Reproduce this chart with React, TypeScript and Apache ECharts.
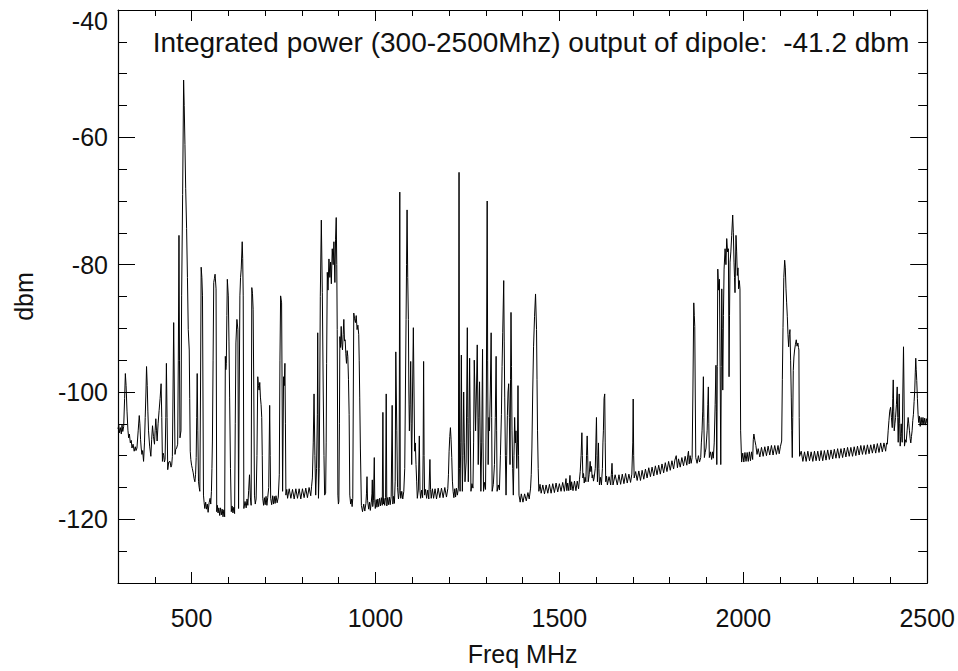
import React, { useEffect, useRef } from "react";
import * as echarts from "echarts";

// Spectrum, split into four frequency bands: [MHz, dBm]
const band1: [number, number][] = [
  [300,-105.8],[302,-105.2],[304,-106.4],[306.5,-105.6],[309,-106.6],[311,-105.2],[313,-106.2],[315.5,-105.4],[318,-101],[320,-97.1],[322,-99],[324.5,-103],[327,-106],[329,-107.2],[331,-106.6],[333.5,-108],[336,-107.6],[338,-108.8],[341,-108.2],[344,-109.3],[347,-108.6],[349,-109.2],[351.5,-108.8],[355,-106],[357.8,-103.7],[359.5,-105],[361.4,-107.5],[363,-108.8],[365,-109.8],[367,-109.2],[369.5,-110.9],[372,-108],[374,-104],[376,-100],[377.6,-96.0],[379.5,-99],[381.2,-103],[383,-106.1],[386,-108.5],[389.3,-110.1],[391.5,-107.5],[393.8,-105.3],[396.5,-107],[399.2,-108.2],[401,-106],[402.8,-104.2],[404.6,-106],[406.4,-107.7],[409,-105],[411.8,-102.9],[414.5,-101],[417.2,-98.7],[419,-104],[420.8,-110.9],[422.6,-109.6],[424.4,-110],[426.2,-111],[428,-110.6],[430,-104],[431.6,-95.5],[433.4,-104],[435.2,-112.2],[438,-111],[441.5,-110.9],[444,-111.8],[446,-111.5],[447.8,-110.1],[449.6,-100],[451.4,-89.1],[453.2,-100],[455,-109.8],[457,-109],[459.5,-108.8],[462.2,-108.2],[464,-95],[465.8,-75.4],[467.2,-95],[468.5,-107.2],[471.2,-106.1],[473,-84.9],[475.7,-69],[478.4,-51.0],[480,-55],[482,-61.1],[484,-68],[486.5,-74.3],[488.8,-82],[491,-90.2],[493.7,-93.4],[495,-101],[496.4,-109.3],[498,-110.6],[500,-111.5],[502,-112],[504.5,-112.7],[506.8,-113.6],[509,-114.1],[510.8,-113],[512.6,-110.3],[514,-104],[515.3,-97.1],[517,-106],[518.9,-114.1],[520.7,-115],[522.5,-115.6],[524.3,-100],[526.1,-80.4],[528,-82],[529.7,-84.9],[531,-100],[532.4,-116.2],[534.2,-117.4],[536,-118.3],[538.3,-117.3],[540.5,-118.4],[542.8,-117.6],[545,-118.9],[547.7,-117.4],[550.4,-116.7],[552.2,-117.6],[554,-115.6],[555.4,-112],[556.7,-107.7],[558.5,-95],[560.3,-82.8],[562,-82.2],[563.9,-81.5],[566.6,-83.8],[567.5,-100],[568.4,-118.8],[570.2,-117.8],[572,-119.0],[574.2,-118.2],[576.5,-119.4],[578.8,-118.2],[581,-119.3],[583.2,-118.4],[585.5,-119.6],[587.8,-118.5],[590,-119.6],[591.8,-94.4],[593.2,-96.5],[594.5,-95.5],[596,-88],[597.2,-82.3],[599.9,-84.9],[601.7,-92],[603.5,-100.8],[605.8,-112],[608,-118.8],[610.2,-117.9],[612.5,-119.0],[614.8,-118.1],[617,-119.1],[618.8,-105],[620.6,-92.3],[623.3,-88.6],[626,-90.2],[627.8,-118.3],[629.6,-100],[631.4,-84.9],[633.2,-82],[635,-80.7],[637.7,-76.4],[639,-79],[640.4,-84.9],[642.2,-118.3],[645.4,-117.2],[648.5,-118.2],[650.8,-116.8],[653,-117.8],[655.2,-115.5],[657.5,-113],[659.8,-116.5],[662,-117.8],[663.8,-83.6],[665.6,-84.5],[667.4,-87],[669.2,-100],[671,-116.2],[673.2,-117.6],[675.5,-116.8],[677.8,-110],[680,-97.6],[681.8,-99],[683.6,-99.7],[685.4,-98.5],[687.2,-100.8],[689,-102],[690.8,-104],[692.2,-110],[693.5,-116.7],[695.8,-117.8],[698,-116.6],[700.2,-117.7],[702.5,-116.4],[704.8,-117.8],[707,-116.6],[709.8,-115],[712.4,-102.1],[713.8,-110],[715.1,-116.7],[717.8,-117.7],[720.5,-116.3],[722.8,-117.6],[725,-116.4],[727.2,-117.5],[729.5,-116.3],[732.7,-117.4],[735.8,-116.5],[738.5,-113],[740.3,-95],[742.1,-84.9],[744.8,-86],[746.2,-100],[747.5,-115.6],[750.2,-97.6],[752,-99],[753.8,-95.5],[755.2,-105],[756.5,-116.2],[758.8,-115.3],[761,-116.7],[765.5,-115.2],[770,-116.7],[774.5,-115.3],[779,-116.8],[783.5,-115.2],[788,-116.7],[792.5,-115.2],[797,-116.8],[801.5,-115.2],[806,-116.6],[810.5,-115.1],[815,-116.6],[819.5,-115.0],[824,-116.3],[826.3,-114.8],[828.5,-113.5],[830.8,-108],[833,-100.3],[835.3,-110],[837.5,-116.2],[839.8,-112],[842,-103.5]
];

const band2: [number, number][] = [
  [843,-90.7],[845,-116.7],[847,-112],[848.5,-100],[850,-85],[852.8,-73.0],[855.5,-84.4],[858,-100],[860,-110],[861.8,-116.2],[864.5,-115.9],[866,-108],[867.2,-95.5],[869,-81.2],[871,-84],[873.5,-79.1],[876,-82],[878,-79.6],[880,-83],[882.5,-77.5],[885,-80],[887,-76.4],[889.7,-82.8],[891.5,-76],[893.3,-72.6],[894.8,-80],[896,-90.2],[897.8,-116.2],[899.2,-117.6],[900.5,-117.2],[902,-105],[903.2,-91.3],[905,-93],[906.8,-89.7],[908.6,-92.5],[910.4,-93.4],[912.2,-91],[914,-88.6],[915.8,-92],[917.6,-91.8],[919.4,-94],[921.2,-95.5],[923,-93.5],[924.8,-94.4],[926.6,-98],[928.4,-103.5],[930.2,-116.2],[932.5,-117.6],[934.7,-116.8],[936.5,-118.0],[938.3,-116.7],[939.8,-100],[941,-87.6],[943.2,-88.5],[945.5,-89.1],[947.7,-88],[950,-90.2],[952.2,-89.5],[954.5,-91.0],[955.8,-95],[957.2,-100.8],[959,-108.8],[961.7,-117.8],[964.8,-118.8],[968,-117.6],[971,-118.7],[974,-117.5],[975.5,-116],[977,-113.3],[978.5,-117],[981.5,-118.4],[984,-117.3],[986,-118.6],[988.7,-117.3],[990.4,-116],[991.4,-113.8],[992.6,-118.0],[994.5,-117.0],[996.8,-110.3],[998.2,-117.3],[999.5,-118.3],[1002,-116.9],[1004,-118.1],[1006.3,-116.8],[1008.5,-118.0],[1011,-116.7],[1013.5,-117.9],[1016,-116.6],[1018.5,-117.8],[1020.2,-103.2],[1021.6,-117.6],[1022.9,-116.7],[1025,-117.8],[1027.5,-116.6],[1029.2,-100.3],[1030.8,-117.9],[1032.8,-116.6],[1035.2,-117.7],[1037.6,-116.5],[1040,-117.7],[1042.7,-116.4],[1045.4,-102.1],[1047.2,-117.6],[1049,-116.4],[1051.5,-117.5],[1053.6,-114],[1055.3,-93.7],[1056.6,-100],[1058,-106.1],[1060,-115],[1062.5,-116.8],[1064.3,-115.9],[1066.1,-68.6],[1067.4,-115.5],[1068.8,-116.7],[1071.5,-115.6],[1074.2,-116.8],[1077,-115.6],[1079.6,-112.0],[1081.4,-100],[1083.2,-88.6],[1084.5,-80],[1085.9,-71.4],[1087.7,-82],[1089.5,-88.6],[1090.8,-100],[1092.2,-106.1],[1094,-102],[1095.8,-95.2],[1097,-105],[1098.5,-111.4],[1100.8,-100],[1103,-89.9],[1104.8,-100],[1106.6,-109.3],[1108.4,-108],[1110.2,-111.4],[1112,-114],[1113.8,-116.7],[1116.5,-115.4],[1119.2,-106.9],[1121,-115.5],[1122.8,-116.7],[1125.5,-115.4],[1128.2,-116.6],[1129.6,-110],[1130.9,-95.2],[1132.2,-110],[1133.6,-116.2],[1136.3,-115.3],[1139,-116.7],[1142,-115.4],[1145,-116.8],[1148,-110.6],[1149.8,-115.3],[1151.6,-116.7],[1154.8,-115.2],[1158,-116.7],[1162,-115.2],[1166,-116.8],[1170.5,-115.1],[1175,-116.6],[1179.5,-115.1],[1184,-116.6],[1188.5,-115.0],[1193,-116.5],[1196.6,-115.2],[1198.4,-113],[1200.2,-109.3],[1202,-107],[1203.8,-105.6],[1205.6,-107.5],[1207.4,-110.3],[1209.2,-114],[1211,-115.6],[1213.2,-116.6],[1215.5,-115.2],[1217.8,-116.5],[1220,-115.1],[1222.7,-116.2],[1225.4,-115.1],[1227.2,-65.5],[1228.6,-112],[1230,-115.6],[1231.8,-108],[1233.5,-94.2],[1235,-108],[1236.2,-115.6],[1238,-110],[1239.8,-100.0],[1241.6,-108],[1243.4,-114.1],[1246.5,-111],[1248.2,-100],[1249.7,-89.9],[1251,-104],[1252.4,-114.1],[1254.2,-105],[1256,-94.7],[1257.8,-106],[1259.6,-115.6],[1262.3,-114.4],[1265,-115.1],[1266.8,-108],[1268.6,-95.0],[1270.4,-100],[1272.2,-106.1],[1274.5,-100],[1276.7,-92.6],[1278,-100],[1279.4,-111.4],[1281.2,-104],[1283,-98.4],[1284.8,-108],[1286.6,-115.6],[1288.8,-108],[1291.1,-93.3],[1292.5,-108],[1293.8,-115.6],[1296.5,-114.2],[1299.2,-115.3],[1301.5,-100],[1303.7,-70.0],[1305,-95],[1306.4,-111.4],[1308.2,-104],[1310,-106.1],[1312.2,-100],[1314.5,-90.7],[1315.9,-104],[1317.2,-115.6],[1320.4,-114.5],[1323.5,-111.4],[1325.8,-104],[1328,-94.4],[1329.4,-106],[1330.7,-115.6],[1333.9,-114.6],[1337,-115.4],[1339.7,-110],[1342.4,-103.5],[1344.2,-96],[1346,-90.7],[1348.7,-82.5],[1350,-92],[1351.4,-100.8],[1353.2,-110],[1355,-116.2],[1356.8,-110],[1358.6,-103.7],[1360.4,-100],[1362.2,-98.7],[1364,-104],[1365.8,-111.4],[1367.2,-98],[1368.5,-87.5],[1369.8,-96],[1371.2,-106.1],[1373,-112],[1374.8,-116.2],[1376.6,-110],[1378.4,-104.0],[1380.2,-108],[1382,-106.1],[1384.2,-112],[1386,-108]
];

const band3: [number, number][] = [
  [1387.5,-99.0],[1389,-110],[1390.2,-116.2],[1393.4,-117.3],[1396.5,-116.0],[1401,-117.3],[1405.5,-116.0],[1410,-117.1],[1414.5,-115.8],[1418,-116.8],[1421.7,-115.1],[1423.5,-113],[1425.3,-108.8],[1427.5,-100],[1429.8,-92.9],[1432.5,-88.1],[1435.2,-84.6],[1437.9,-90.2],[1439.2,-98],[1440.6,-106.1],[1442.4,-112],[1444.2,-115.6],[1447.4,-114.5],[1450.5,-115.9],[1455,-114.6],[1459.5,-116.0],[1464,-114.6],[1468.5,-115.9],[1473,-114.5],[1477.5,-115.9],[1482,-114.4],[1486.5,-115.8],[1491,-114.3],[1495.5,-115.7],[1500,-114.4],[1504.5,-115.6],[1509,-114.2],[1513.5,-115.6],[1518,-113.6],[1520.3,-115.5],[1522.5,-114.3],[1525.6,-115.5],[1528.8,-113.1],[1531,-115.4],[1533.3,-114.1],[1537,-115.5],[1541,-114.0],[1545,-115.5],[1548.6,-114.0],[1552.2,-115.2],[1554.5,-113.8],[1556.7,-112.5],[1559,-110],[1561.2,-106.4],[1562.5,-110],[1563.9,-113.5],[1565.7,-112.8],[1567.5,-114.3],[1569.8,-113.4],[1572,-114.1],[1573.8,-110],[1575.6,-106.9],[1577,-110],[1578.3,-114.1],[1581,-113],[1583.7,-110.9],[1585.5,-112.5],[1587.3,-111.7],[1589.1,-113.5],[1590.9,-113.0],[1592.7,-114],[1594.5,-113.5],[1597.6,-112],[1599.2,-108],[1600.8,-104.0],[1602.2,-110],[1603.5,-114.1],[1604.8,-111],[1606.2,-108.0],[1607.5,-112],[1608.9,-114.6],[1611.6,-113.4],[1614.3,-114.6],[1617,-112],[1618.4,-108],[1619.7,-106.1],[1621.5,-101],[1623.3,-100.3],[1624.6,-108],[1626,-114.1],[1628.2,-113.2],[1630.5,-114.6],[1635,-113.3],[1639.5,-114.6],[1641.3,-113],[1643.1,-111.2],[1644.4,-113],[1645.8,-114.6],[1651.6,-113.0],[1657.5,-114.6],[1662,-113.0],[1666.5,-114.5],[1671,-112.9],[1675.5,-114.4],[1680,-112.8],[1684.5,-114.3],[1689,-112.9],[1693.5,-114.2],[1697,-112.9],[1699.5,-108],[1700.7,-101.1],[1702,-110],[1703.4,-113.5],[1707.4,-112.5],[1711.5,-113.9],[1716,-112.4],[1720.5,-113.9],[1725,-112.3],[1729.5,-113.7],[1734,-112.1],[1738.5,-113.5],[1743,-111.9],[1747.5,-113.3],[1752,-111.8],[1756.5,-113.2],[1761,-111.6],[1765.5,-113.0],[1770,-111.5],[1774.5,-112.9],[1779,-111.3],[1783.5,-112.7],[1788,-111.1],[1792.5,-112.5],[1797,-110.9],[1801.5,-112.3],[1806,-110.8],[1810.5,-112.1],[1814,-110.7],[1817.7,-110.0],[1821,-111.9],[1824,-110.5],[1828.5,-111.8],[1833,-110.3],[1837.5,-111.6],[1842,-110.1],[1846.5,-111.5],[1849.5,-109.8],[1851,-109.3],[1853,-111.3],[1855.5,-110.0],[1858.2,-111.2],[1860.9,-110.3],[1863,-100],[1865.4,-86.0],[1866.8,-88],[1868.1,-89.7],[1869.4,-100],[1870.8,-110.3],[1874.4,-111.2],[1878,-110.0],[1881,-111.0],[1884.3,-110.3],[1886,-108],[1887.9,-106.1],[1889.7,-103],[1891.5,-97.6],[1892.8,-104],[1894.2,-110.3],[1896.5,-109.5],[1898.7,-108.8],[1901.8,-106],[1903.5,-102],[1905,-99.2],[1906.3,-105],[1907.7,-110.3],[1910.8,-109.4],[1914,-110.6],[1916.2,-109.4],[1918.5,-110.4],[1921,-108],[1923.5,-102],[1925.7,-95.8],[1926.8,-103]
];

const band4: [number, number][] = [
  [1928,-111.4],[1929.3,-96],[1930.7,-80.7],[1933,-84],[1935.2,-82.3],[1937,-96],[1938.8,-111.4],[1940.2,-96],[1941.5,-83.8],[1942.8,-90],[1944.2,-99.7],[1946,-88],[1947.8,-80.7],[1950.5,-77.5],[1952.8,-80],[1955,-75.9],[1957.3,-78],[1959.5,-77.5],[1961.3,-97.6],[1962.6,-88],[1964,-79.6],[1966.2,-78],[1968.5,-75.4],[1971.2,-72.2],[1973,-75],[1974.8,-79.6],[1976.2,-82],[1977.5,-84.4],[1980.2,-75.4],[1982,-78],[1983.8,-81.7],[1985.6,-80.5],[1987.4,-83.8],[1989.2,-82.5],[1991,-83.8],[1992.8,-106.1],[1995.5,-111.0],[1998.5,-109.6],[2001.5,-111.0],[2004.5,-109.5],[2007.5,-110.9],[2010.5,-109.5],[2013.5,-110.9],[2016.5,-109.4],[2019.5,-110.8],[2022.5,-109.4],[2025.5,-110.6],[2027.2,-107.5],[2028.8,-106.6],[2031.5,-107.6],[2034.2,-108.4],[2037.4,-109.8],[2040.5,-108.9],[2045,-110.2],[2049.5,-108.7],[2054,-110.1],[2058.5,-108.6],[2063,-110.0],[2067.5,-108.5],[2072,-109.9],[2076.5,-108.4],[2081,-109.9],[2085.5,-108.4],[2090,-109.8],[2094.5,-108.4],[2097.6,-109.7],[2100.8,-108.6],[2104.4,-107.7],[2106.2,-98],[2108,-89.9],[2110.2,-82],[2112.5,-79.3],[2114.3,-80.5],[2116.1,-83.8],[2117.9,-86],[2119.7,-88.1],[2121.5,-91],[2123.3,-92.9],[2125.1,-91],[2126.9,-90.2],[2128.7,-95],[2130.5,-100.8],[2131.8,-106],[2133.2,-110.3],[2134.5,-104],[2135.9,-96.6],[2137.7,-94.5],[2139.5,-93.4],[2141.8,-92.5],[2144,-91.8],[2146.2,-92.8],[2148.5,-92.3],[2150,-93],[2151.2,-93.4],[2152,-104],[2153,-110.1],[2157.5,-109.3],[2162,-110.9],[2166.5,-109.4],[2171,-110.9],[2175.5,-109.3],[2180,-110.8],[2184.5,-109.4],[2189,-110.9],[2193.5,-109.3],[2198,-110.8],[2202.5,-109.3],[2207,-110.8],[2211.5,-109.2],[2216,-110.8],[2220.5,-109.2],[2225,-110.7],[2229.5,-109.1],[2234,-110.6],[2238.5,-109.1],[2243,-110.5],[2247.5,-109.0],[2252,-110.4],[2256.5,-108.9],[2261,-110.4],[2265.5,-108.9],[2270,-110.3],[2274.5,-108.8],[2279,-110.2],[2283.5,-108.7],[2288,-110.1],[2292.5,-108.7],[2297,-110.1],[2301.5,-108.6],[2306,-110.0],[2310.5,-108.5],[2315,-109.9],[2319.5,-108.4],[2324,-109.8],[2328.5,-108.4],[2333,-109.8],[2337.5,-108.3],[2342,-109.7],[2346.5,-108.3],[2351,-109.6],[2355.5,-108.2],[2360,-109.6],[2364.5,-108.1],[2369,-109.5],[2373.5,-108.0],[2378,-109.4],[2382.5,-108.0],[2387,-109.3],[2389.5,-108.0],[2391.5,-108.2],[2394,-106],[2396,-104.5],[2398.2,-103],[2400.5,-102.4],[2402.8,-104],[2405,-105.6],[2406.4,-101],[2407.7,-98.1],[2409,-103],[2410.4,-106.1],[2412.2,-105],[2414,-104.0],[2416.3,-102],[2418.5,-99.2],[2419.9,-104],[2421.2,-107.9],[2422.6,-104],[2423.9,-100.3],[2425.2,-105],[2426.6,-108.5],[2428,-107],[2429.3,-105.0],[2430.7,-106.5],[2432,-107.9],[2433.8,-100],[2435.6,-92.9],[2437,-100],[2438.3,-108.5],[2440.6,-107.5],[2442.8,-107.9],[2445.5,-106],[2448.2,-104.0],[2450,-105],[2451.8,-106.1],[2453.6,-107.3],[2455.4,-108.0],[2457.2,-107],[2459,-106.1],[2460.8,-104.5],[2462.6,-103.5],[2464.4,-101.5],[2466.2,-99.7],[2467.6,-97],[2468.9,-94.7],[2470.2,-96.5],[2471.6,-98.2],[2473.4,-101],[2475.2,-103.5],[2477,-104.8],[2478.8,-103.8],[2481,-105.4],[2483.5,-104.0],[2486,-105.2],[2488.5,-104.0],[2491,-105.2],[2493.2,-104.1],[2495.5,-105.2],[2498,-104.2],[2500,-104.9]
];

const titleText = "Integrated power (300-2500Mhz) output of dipole:  -41.2 dbm";
const xName = "Freq MHz";
const yName = "dbm";
const xRange = [300, 2500];
const yRange = [-130, -40];

const FONT = "'Liberation Sans', Arial, Helvetica, sans-serif";

export default function App() {
  const ref = useRef<HTMLDivElement>(null);
  useEffect(() => {
    if (!ref.current) return;
    const chart = echarts.init(ref.current, undefined, { renderer: "svg" });
    const spectrum = [...band1, ...band2, ...band3, ...band4];
    const axisLine = { show: true, onZero: false, lineStyle: { color: "#000", width: 1.2 } };
    const xTick = { show: true, inside: true, length: 11, lineStyle: { color: "#000", width: 1 } };
    const xMinor = { show: true, splitNumber: 5, length: 6, lineStyle: { color: "#000", width: 1 } };
    const yTick = { show: true, inside: true, length: 17, lineStyle: { color: "#000", width: 1 } };
    const yMinor = { show: true, splitNumber: 4, length: 9, lineStyle: { color: "#000", width: 1 } };
    const option: any = {
      animation: false,
      grid: { left: 118, right: 30, top: 10, bottom: 87 },
      graphic: [
        {
          type: "text",
          x: 531,
          y: 42,
          style: {
            text: titleText,
            fontSize: 28,
            fontFamily: FONT,
            fill: "#111",
            align: "center",
            verticalAlign: "middle",
          },
          z: 100,
        },
      ],
      xAxis: [
        {
          type: "value",
          position: "bottom",
          min: xRange[0],
          max: xRange[1],
          axisLine,
          axisTick: xTick,
          minorTick: xMinor,
          splitLine: { show: false },
          axisLabel: {
            margin: 22,
            fontSize: 25,
            color: "#111",
            fontFamily: FONT,
            formatter: (v: number) => (v % 500 === 0 ? String(v) : ""),
          },
          name: xName,
          nameLocation: "middle",
          nameGap: 58,
          nameTextStyle: { fontSize: 25, color: "#111", fontFamily: FONT },
        },
        {
          type: "value",
          position: "top",
          min: xRange[0],
          max: xRange[1],
          axisLine,
          axisTick: xTick,
          minorTick: xMinor,
          splitLine: { show: false },
          axisLabel: { show: false },
        },
      ],
      yAxis: [
        {
          type: "value",
          position: "left",
          min: yRange[0],
          max: yRange[1],
          axisLine,
          axisTick: yTick,
          minorTick: yMinor,
          splitLine: { show: false },
          axisLabel: {
            margin: 10,
            fontSize: 25,
            color: "#111",
            fontFamily: FONT,
            formatter: (v: number) =>
              v === yRange[0] ? "" : v === yRange[1] ? `{top|${v}}` : String(v),
            rich: {
              top: { fontSize: 25, color: "#111", fontFamily: FONT, padding: [22, 0, 0, 0] },
            },
          },
          name: yName,
          nameLocation: "middle",
          nameGap: 82,
          nameTextStyle: { fontSize: 25, color: "#111", fontFamily: FONT },
        },
        {
          type: "value",
          position: "right",
          min: yRange[0],
          max: yRange[1],
          axisLine,
          axisTick: yTick,
          minorTick: yMinor,
          splitLine: { show: false },
          axisLabel: { show: false },
        },
      ],
      series: [
        {
          type: "line",
          xAxisIndex: 0,
          yAxisIndex: 0,
          data: spectrum,
          showSymbol: false,
          symbol: "none",
          lineStyle: { color: "#000", width: 1 },
          silent: true,
        },
      ],
    };
    chart.setOption(option);
    return () => chart.dispose();
  }, []);
  return (
    <div
      ref={ref}
      style={{ position: "fixed", left: 0, top: 0, width: 958, height: 671, background: "#fff" }}
    />
  );
}
